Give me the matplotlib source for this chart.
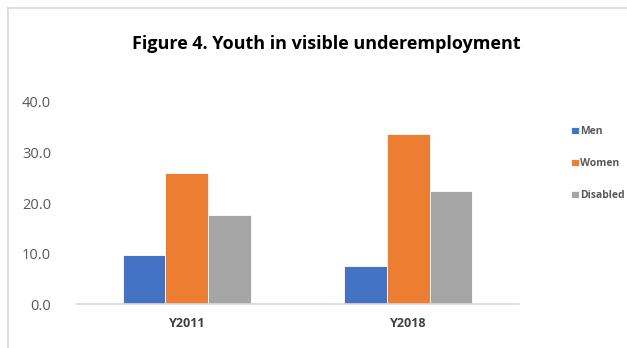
import numpy as np
import matplotlib
matplotlib.use('Agg')
import matplotlib.pyplot as plt
from matplotlib.lines import Line2D

# values
years = ['Y2011', 'Y2018']
series = ['Men', 'Women', 'Disabled']
men = [9.7, 7.5]
women = [25.9, 33.7]
disabled = [17.6, 22.4]
colors = ['#4472C4', '#ED7D31', '#A5A5A5']

plt.rcParams['font.family'] = ['Open Sans', 'DejaVu Sans']

fig = plt.figure(figsize=(6.27, 3.48), dpi=100)
ax = fig.add_axes([0.1212, 0.1264, 0.7066, 0.5805])

x = np.arange(len(years))
w = 0.192
for i, (name, vals) in enumerate(zip(series, [men, women, disabled])):
    ax.bar(x + (i - 1) * w, vals, w, color=colors[i], label=name,
           edgecolor='white', linewidth=0.6)

ax.set_xlim(-0.5, 1.5)
ax.set_ylim(0, 40)
ax.set_yticks([0, 10, 20, 30, 40])
ax.set_yticklabels(['%.1f' % v for v in [0, 10, 20, 30, 40]], fontsize=10.5, color='#595959')
ax.set_xticks(x)
ax.set_xticklabels(years, fontsize=9, fontweight='bold', color='#404040')
ax.tick_params(length=0)
ax.tick_params(axis='y', pad=18)
ax.tick_params(axis='x', pad=9)
for s in ['top', 'right', 'left']:
    ax.spines[s].set_visible(False)
ax.spines['bottom'].set_color('#d9d9d9')
ax.spines['bottom'].set_linewidth(1.2)

fig.text(0.52, 0.873, 'Figure 4. Youth in visible underemployment', ha='center', va='center',
         fontsize=13, fontweight='bold', color='black')

leg = fig.legend(loc='upper left', bbox_to_anchor=(0.902, 0.652), frameon=False, borderpad=0,
                 prop={'size': 7.5, 'weight': 'bold'}, labelcolor='#595959',
                 handlelength=0.75, handleheight=0.75, handletextpad=0.15, labelspacing=2.0)

# chart area border (cropped on right/bottom)
fig.add_artist(Line2D([0.0128, 0.0128], [0, 0.977], color='#d9d9d9', lw=1.2, transform=fig.transFigure))
fig.add_artist(Line2D([0.0128, 1], [0.977, 0.977], color='#d9d9d9', lw=1.2, transform=fig.transFigure))

fig.savefig('out.png', dpi=100)
